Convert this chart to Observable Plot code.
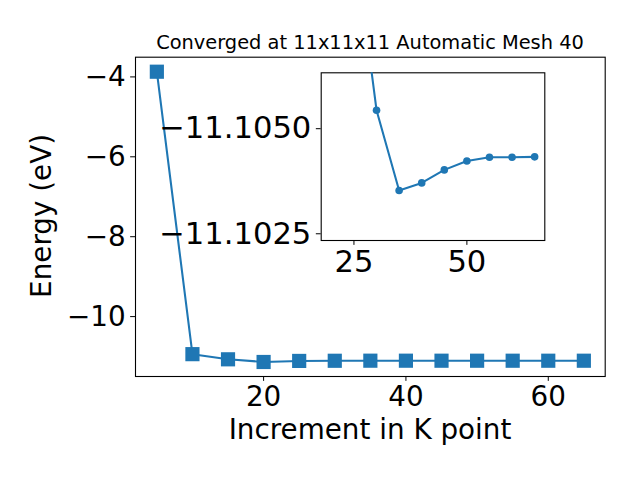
<!DOCTYPE html>
<html>
<head>
<meta charset="utf-8">
<script src="https://cdn.jsdelivr.net/npm/d3@7"></script>
<script src="https://cdn.jsdelivr.net/npm/@observablehq/plot@0.6"></script>
<style>
  html, body { margin: 0; padding: 0; background: white; }
  #wrap { position: relative; width: 640px; height: 480px; font-family: "DejaVu Sans", sans-serif; color: black; }
  #wrap svg { position: absolute; left: 0; top: 0; }
  .lbl { position: absolute; white-space: nowrap; line-height: 1; text-align: center; }
</style>
</head>
<body>
<div id="wrap"></div>
<script>
// ---- data ----
const kpoints = [5, 10, 15, 20, 25, 30, 35, 40, 45, 50, 55, 60, 65];
const energies = [-3.87, -10.94, -11.069, -11.136, -11.1096, -11.10544, -11.10353, -11.10371, -11.10402, -11.10423, -11.10432, -11.10432, -11.10433];
const insetStartK = 20;
const insetYLim = [-11.10234, -11.10633]; // inverted limits (bottom, top)
const mainXTicks = [20, 40, 60];
const mainYTicks = [-10, -8, -6, -4];
const insetXTicks = [25, 50];
const insetYTicks = [-11.1050, -11.1025];
const title = "Converged at 11x11x11 Automatic Mesh 40";
const xLabel = "Increment in K point";
const yLabel = "Energy (eV)";
const color = "#1f77b4";

const data = kpoints.map((k, i) => ({k, e: energies[i]}));
const insetData = data.filter(d => d.k >= insetStartK);

function pad(ext, f = 0.05) { const s = ext[1] - ext[0]; return [ext[0] - f * s, ext[1] + f * s]; }

const xDom = pad(d3.extent(data, d => d.k));
const yDom = pad(d3.extent(data, d => d.e));
const ixDom = pad(d3.extent(insetData, d => d.k));

const font = "DejaVu Sans";
const tick = 4.86;

const main = Plot.plot({
  width: 640, height: 480,
  marginTop: 56.7, marginRight: 35.3, marginBottom: 104, marginLeft: 135,
  style: {fontFamily: font, fontSize: "27.8px", background: "white", color: "black", overflow: "visible"},
  x: {domain: xDom, ticks: mainXTicks, tickSize: tick, tickPadding: 5, label: null},
  y: {domain: yDom, ticks: mainYTicks, tickSize: tick, tickPadding: 5, label: null},
  marks: [
    Plot.frame({stroke: "black", strokeWidth: 1.1}),
    Plot.line(data, {x: "k", y: "e", stroke: color, strokeWidth: 2.08}),
    Plot.dot(data, {x: "k", y: "e", symbol: "square", r: 8, fill: color})
  ]
});

const inset = Plot.plot({
  width: 640, height: 480,
  marginTop: 72.3, marginRight: 95.7, marginBottom: 240, marginLeft: 320.7,
  style: {fontFamily: font, fontSize: "30.6px", background: "transparent", color: "black", overflow: "visible"},
  x: {domain: ixDom, ticks: insetXTicks, tickSize: tick, tickPadding: 5, label: null},
  y: {domain: insetYLim, ticks: insetYTicks, tickFormat: d3.format(".4f"), tickSize: tick, tickPadding: 5, label: null},
  marks: [
    Plot.frame({fill: "white", stroke: "black", strokeWidth: 1.1}),
    Plot.line(insetData, {x: "k", y: "e", stroke: color, strokeWidth: 2.08, clip: true}),
    Plot.dot(insetData, {x: "k", y: "e", r: 3.8, fill: color, clip: true})
  ]
});

const wrap = document.getElementById("wrap");
wrap.appendChild(main);
wrap.appendChild(inset);

function addLabel(text, size, left, top, width, rotate) {
  const d = document.createElement("div");
  d.className = "lbl";
  d.textContent = text;
  d.style.fontSize = size + "px";
  d.style.left = left + "px";
  d.style.top = top + "px";
  d.style.width = width + "px";
  if (rotate) { d.style.transform = "rotate(-90deg)"; d.style.transformOrigin = "50% 50%"; }
  wrap.appendChild(d);
}
// title centered over axes (x center 370), baseline ~50
addLabel(title, 19.4, 370 - 300, 33, 600, false);
// x label, baseline ~440
addLabel(xLabel, 27.8, 370 - 300, 416.3, 600, false);
// y label rotated, center at (42, 216)
addLabel(yLabel, 27.8, 42 - 150, 216 - 13.9, 300, true);
</script>
</body>
</html>
